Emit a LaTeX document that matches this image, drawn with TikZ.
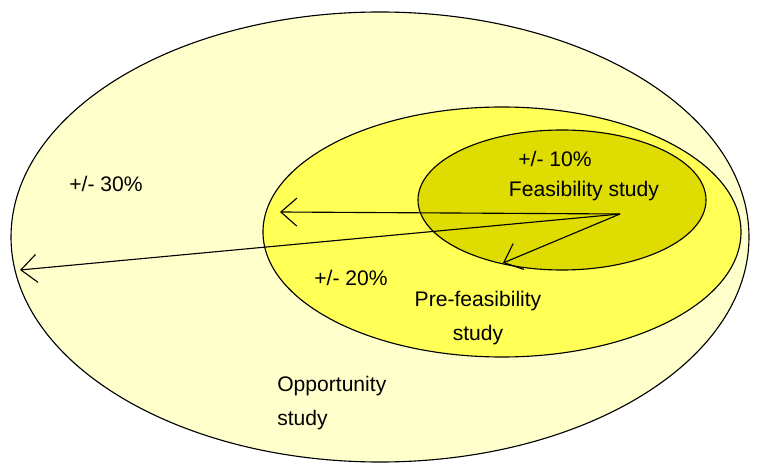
\documentclass[tikz,border=0pt]{standalone}
\usepackage{fontspec}
\setmainfont{Liberation Sans}
\usepackage{tikz}
\usetikzlibrary{arrows.meta}
\definecolor{oppfill}{HTML}{FFFFCC}
\definecolor{prefill}{HTML}{FFFF55}
\definecolor{feasfill}{HTML}{DEDC00}
\tikzset{ring/.style={draw,line width=0.8pt},
  ray/.style={line width=0.8pt,-{Straight Barb[length=0.4cm,width=0.7cm]}},
  lbl/.style={font=\fontsize{15}{24}\selectfont,inner sep=0pt}}

\begin{document}
\begin{tikzpicture}[x=0.025cm,y=-0.025cm]
\useasboundingbox (0,0) rectangle (758,465);

\draw[ring,fill=oppfill] (380,237) ellipse [x radius=369, y radius=225];
\draw[ring,fill=prefill] (502,232) ellipse [x radius=239, y radius=125];
\draw[ring,fill=feasfill] (562,200) ellipse [x radius=144, y radius=70];

\coordinate (src) at (620,214);
\coordinate (pre) at (280,212);
\coordinate (opp) at (20,270);
\coordinate (fea) at (503,263);
\draw[ray] (src)--(pre);
\draw[ray] (src)--(opp);
\draw[ray] (src)--(fea);

\node[lbl] (p30) at (106,184) {+/- 30\%};
\node[lbl] (p10) at (555,159) {+/- 10\%};
\node[lbl] (fs) at (584,191) {Feasibility study};
\node[lbl] (p20) at (351,278) {+/- 20\%};
\node[lbl,align=center] (pfs) at (478,318) {Pre-feasibility\\study};
\node[lbl,align=left,anchor=west] (os) at (277,403) {Opportunity\\study};

\end{tikzpicture}
\end{document}
